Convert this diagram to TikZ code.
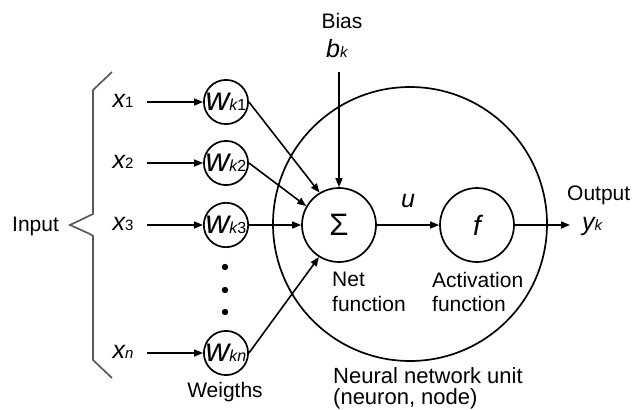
\documentclass[tikz,border=0pt]{standalone}
\usepackage{fontspec}
\setmainfont{Liberation Sans}
\usetikzlibrary{arrows.meta}
\newcommand\setsz[1]{\fontsize{#1}{#1}\selectfont}
\begin{document}
\begin{tikzpicture}[x=1pt,y=-1pt,
  every node/.style={inner sep=0pt, font=\fontsize{21}{24.5}\selectfont},
  cir/.style={draw, circle, line width=1.7pt, inner sep=0pt},
  wc/.style={cir, minimum size=44pt},
  xin/.style={inner xsep=13pt},
  arr/.style={line width=1.6pt, -{Triangle[length=9pt,width=7pt]}},
  brace/.style={line width=1.7pt, draw=black!65}]
\useasboundingbox (0,0) rectangle (633,410);

% neural unit
\node[cir, minimum size=274pt] (unit) at (410,224) {};
\node[cir, minimum size=74pt] (sig) at (339,225) {\setsz{31}Σ};
\node[cir, minimum size=74pt] (f) at (477,225) {\setsz{28}\itshape f};

% weights
\node[wc] (w1) at (226,102) {{\setsz{33}\itshape w}{\setsz{16}\itshape k}{\setsz{16}1}};
\node[wc] (w2) at (226,163) {{\setsz{33}\itshape w}{\setsz{16}\itshape k}{\setsz{16}2}};
\node[wc] (w3) at (226,225) {{\setsz{33}\itshape w}{\setsz{16}\itshape k}{\setsz{16}3}};
\node[wc] (wn) at (226,353) {{\setsz{33}\itshape w}{\setsz{16}\itshape kn}};

% inputs
\node[xin] (x1) at (123,101) {{\setsz{25}\itshape x}{\setsz{15}1}};
\node[xin] (x2) at (123,162) {{\setsz{25}\itshape x}{\setsz{15}2}};
\node[xin] (x3) at (123,224) {{\setsz{25}\itshape x}{\setsz{15}3}};
\node[xin] (xn) at (123,352) {{\setsz{25}\itshape x}{\setsz{15}\itshape n}};

\draw[arr] (x1.east |- w1) -- (w1);
\draw[arr] (x2.east |- w2) -- (w2);
\draw[arr] (x3.east |- w3) -- (w3);
\draw[arr] (xn.east |- wn) -- (wn);

% dots
\fill (225,267) circle (3.2pt);
\fill (225,290) circle (3.2pt);
\fill (225,312) circle (3.2pt);

% weights to sum
\draw[arr] (w1.east) -- (sig.121);
\draw[arr] (w2.east) -- (sig.150);
\draw[arr] (w3.east) -- (sig.west);
\draw[arr] (wn.east) -- (sig.238);

% bias
\node[anchor=base] (bias) at (342,28) {Bias};
\node[anchor=base west] (bk) at (326,57) {{\setsz{25}\itshape b}{\setsz{15}\itshape k}};
\coordinate (bstart) at (339,72);
\draw[arr] (bstart) -- (sig.north);

% u and output
\node[anchor=base] (u) at (408,207) {\setsz{25}\itshape u};
\draw[arr] (sig) -- (f);
\coordinate (outend) at (570,225);
\draw[arr] (f) -- (outend);
\node[anchor=base west] (yk) at (582,230) {{\setsz{25}\itshape y}{\setsz{15}\itshape k}};
\node[anchor=base west] (output) at (567,200) {Output};

% labels
\node[anchor=north west, align=left] (netf) at (332,272) {Net\\function};
\node[anchor=north west, align=left] (actf) at (432,272) {Activation\\function};
\node[anchor=base west, font=\fontsize{22}{22}\selectfont] (nnu1) at (333,383) {Neural network unit};
\node[anchor=base west, font=\fontsize{22}{22}\selectfont] (nnu2) at (333,404) {(neuron, node)};
\node[anchor=base] (weig) at (225,397) {Weigths};

% input brace
\draw[brace] (112,72) -- (93,90) -- (93,214) -- (70,225) -- (90,234) -- (93,236) -- (93,360) -- (112,378);
\node[anchor=base west] (input) at (12,231) {Input};
\end{tikzpicture}
\end{document}
